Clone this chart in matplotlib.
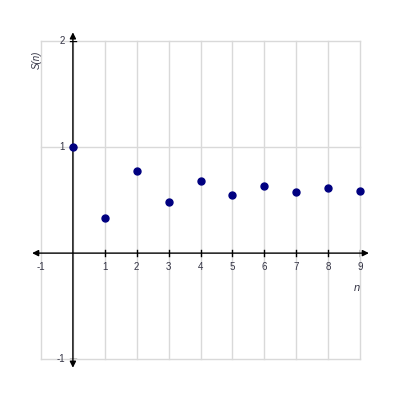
import matplotlib
matplotlib.use("Agg")
import matplotlib.pyplot as plt

n_vals = [0, 1, 2, 3, 4, 5, 6, 7, 8, 9]
s_vals = [1.0, 0.333, 0.778, 0.481, 0.679, 0.547, 0.636, 0.576, 0.617, 0.589]
x_ticks = [-1, 1, 2, 3, 4, 5, 6, 7, 8, 9]
y_ticks = [-1, 1, 2]

plt.rcParams['font.family'] = ['Liberation Sans', 'DejaVu Sans']
fig = plt.figure(figsize=(4, 4), dpi=100)
ax = fig.add_axes([0.1025, 0.1018, 0.7975, 0.7962])
ax.set_xlim(-1, 9)
ax.set_ylim(-1, 2)
ax.axis('off')

grid_c = '#d9d9d9'
for x in range(-1, 10):
    ax.plot([x, x], [-1, 2], color=grid_c, lw=1, zorder=1, clip_on=False)
for y in [-1, 1, 2]:
    ax.plot([-1, 9], [y, y], color=grid_c, lw=1, zorder=1, clip_on=False)

# axes with arrows
ax.annotate('', xy=(9.28, 0), xytext=(-1.28, 0),
            arrowprops=dict(arrowstyle='<|-|>', color='black', lw=1,
                            mutation_scale=9, shrinkA=0, shrinkB=0),
            annotation_clip=False, zorder=3)
ax.annotate('', xy=(0, 2.08), xytext=(0, -1.08),
            arrowprops=dict(arrowstyle='<|-|>', color='black', lw=1,
                            mutation_scale=9, shrinkA=0, shrinkB=0),
            annotation_clip=False, zorder=3)

# ticks
for x in x_ticks:
    if x != -1:
        ax.plot([x, x], [-0.03, 0.03], color='black', lw=1, zorder=3)
    ax.text(x, -0.085, str(x), ha='center', va='top', fontsize=7, color='#333344')
for y in y_ticks:
    ax.plot([-0.1, 0.1], [y, y], color='black', lw=1, zorder=3)
    ax.text(-0.25, y, str(y), ha='right', va='center', fontsize=7, color='#333344')

ax.text(-1.12, 1.91, 'S(n)', style='italic', rotation=90, ha='center', va='top',
        fontsize=7, color='#333344')
ax.text(8.9, -0.33, 'n', style='italic', ha='center', va='center', fontsize=8, color='#333344')

ax.plot(n_vals, s_vals, 'o', color='#000080', markersize=5, zorder=4, clip_on=False)

fig.savefig('out.png', dpi=100)
